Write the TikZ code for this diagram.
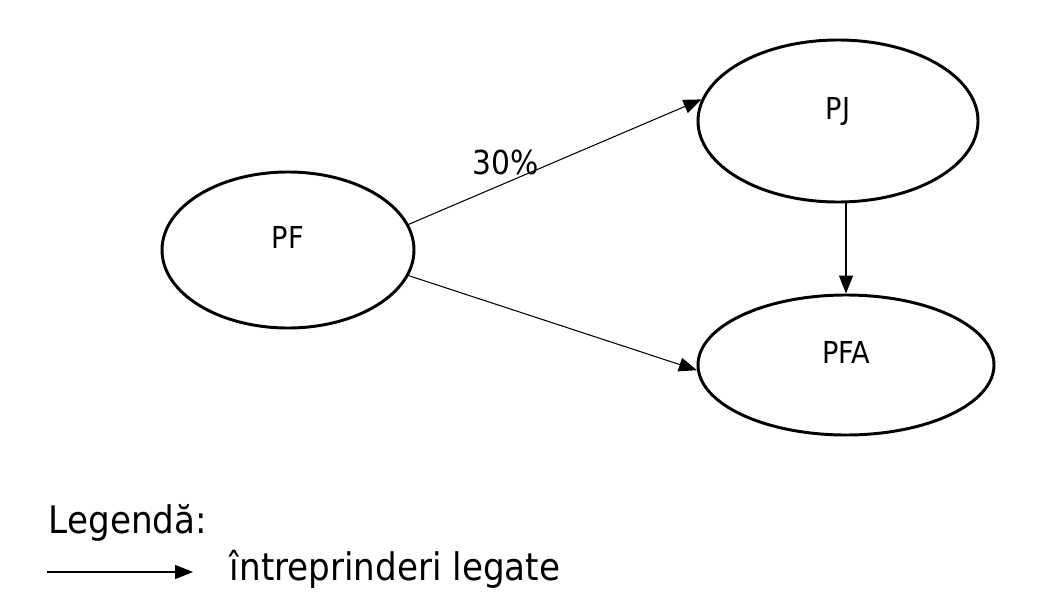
\documentclass[tikz,border=0pt]{standalone}
\usepackage{fontspec}
\setmainfont{DejaVu Sans Condensed}
\usetikzlibrary{positioning}
\usetikzlibrary{shapes, arrows.meta}

\begin{document}
\begin{tikzpicture}[node distance = 2cm, auto]
    \tikzstyle{entity} = [ellipse, draw, line width=2.1pt, inner sep=0pt,
    font=\fontsize{21.5}{24}\selectfont, text depth=0.65cm]
    \tikzstyle{line} = [draw, line width=0.75pt, -{Triangle[length=0.45cm, width=0.35cm]}]
    \useasboundingbox (0,0) rectangle (26.475,-14.925);
    \node [entity, minimum width=6.3cm, minimum height=3.9cm] (pf) at (7.2,-6.25) {PF};
    \node [entity, minimum width=7cm, minimum height=4.05cm, on grid,
    above right=3.225cm and 13.75cm of pf] (pj) {PJ};
    \node [entity, minimum width=7.4cm, minimum height=3.5cm, on grid,
    below=6.1cm of pj, xshift=0.2cm] (pfa) {PFA};
    \path [line] (pf.12) -- node [pos=0.33, above=2pt, font=\fontsize{23.5}{27}\selectfont] {30\%} (pj.171);
    \path [line] (pf.-12) -- (pfa.182);
    \path [line] (pfa.north |- pj.south) -- (pfa.north);
    % legenda
    \node [anchor=base west, font=\fontsize{27}{31}\selectfont] (legend) at (1.1,-13.325) {Legendă:};
    \coordinate (keystart) at (1.175,-14.3);
    \coordinate (keyend) at (4.825,-14.3);
    \path [line] (keystart) -- (keyend);
    \node [anchor=base west, font=\fontsize{27}{31}\selectfont] (keytext) at (5.625,-14.5) {întreprinderi legate};
\end{tikzpicture}
\end{document}
